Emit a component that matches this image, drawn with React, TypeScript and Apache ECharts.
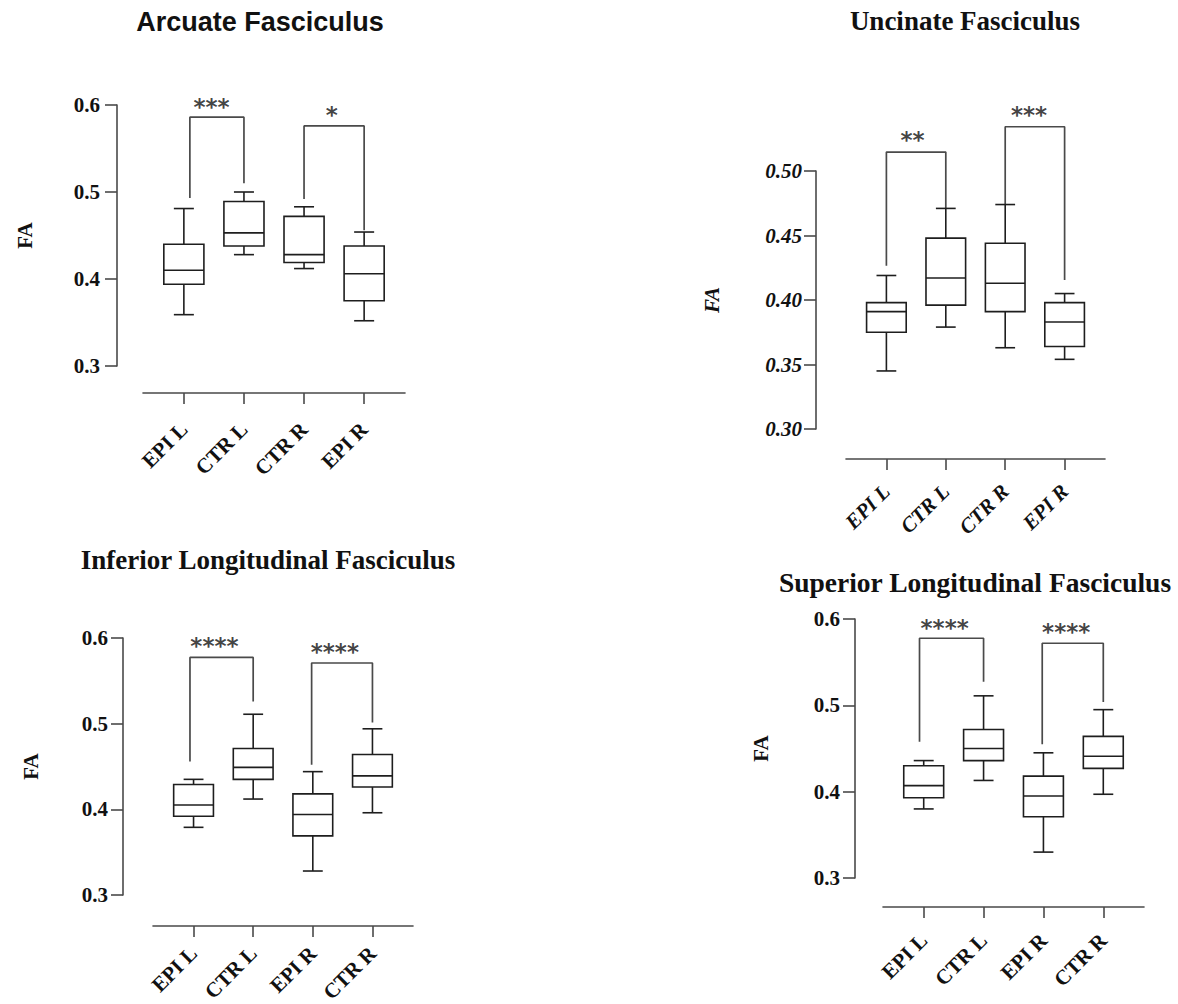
import React, { useEffect, useRef } from 'react';
import * as echarts from 'echarts';

// ---------- data ----------
const titles = ['Arcuate Fasciculus', 'Uncinate Fasciculus', 'Inferior Longitudinal Fasciculus', 'Superior Longitudinal Fasciculus'];

const catsArcUnc = ['EPI L', 'CTR L', 'CTR R', 'EPI R'];
const catsIlfSlf = ['EPI L', 'CTR L', 'EPI R', 'CTR R'];

// [min, Q1, median, Q3, max]
const arcuateBoxes = [
  [0.359, 0.394, 0.410, 0.440, 0.481],
  [0.428, 0.438, 0.453, 0.489, 0.500],
  [0.412, 0.419, 0.428, 0.472, 0.483],
  [0.352, 0.375, 0.406, 0.438, 0.454],
];
const uncinateBoxes = [
  [0.345, 0.375, 0.391, 0.398, 0.419],
  [0.379, 0.396, 0.417, 0.448, 0.471],
  [0.363, 0.391, 0.413, 0.444, 0.474],
  [0.354, 0.364, 0.383, 0.398, 0.405],
];
const ilfBoxes = [
  [0.379, 0.392, 0.405, 0.429, 0.435],
  [0.412, 0.435, 0.449, 0.471, 0.511],
  [0.328, 0.369, 0.394, 0.418, 0.444],
  [0.396, 0.426, 0.439, 0.464, 0.494],
];
const slfBoxes = [
  [0.380, 0.393, 0.407, 0.430, 0.436],
  [0.413, 0.436, 0.450, 0.472, 0.511],
  [0.330, 0.371, 0.395, 0.418, 0.445],
  [0.397, 0.427, 0.441, 0.464, 0.495],
];

// significance brackets: [x, y] polyline points
const arcuateBrackets = [
  [[0.1, 0.493], [0.1, 0.586], [1, 0.586], [1, 0.510]],
  [[2, 0.492], [2, 0.576], [3, 0.576], [3, 0.456]],
];
const uncinateBrackets = [
  [[0, 0.4266], [0, 0.5147], [1, 0.5147], [1, 0.471]],
  [[2, 0.4736], [2, 0.5343], [3, 0.5343], [3, 0.4155]],
];
const ilfBrackets = [
  [[-0.06, 0.4558], [-0.06, 0.5773], [1, 0.5773], [1, 0.5259]],
  [[1.98, 0.4519], [1.98, 0.5708], [3, 0.5708], [3, 0.5014]],
];
const slfBrackets = [
  [[-0.07, 0.4578], [-0.07, 0.5777], [1, 0.5777], [1, 0.5274]],
  [[1.98, 0.455], [1.98, 0.5719], [3, 0.5719], [3, 0.504]],
];

// stars: [label, x, y]
const arcuateStars: [string, number, number][] = [['***', 0.46, 0.604], ['*', 2.46, 0.594]];
const uncinateStars: [string, number, number][] = [['**', 0.44, 0.528], ['***', 2.4, 0.5473]];
const ilfStars: [string, number, number][] = [['****', 0.35, 0.597], ['****', 2.37, 0.589]];
const slfStars: [string, number, number][] = [['****', 0.35, 0.595], ['****', 2.38, 0.5905]];

const yTicksA = { min: 0.3, max: 0.6, interval: 0.1, digits: 1 };
const yTicksU = { min: 0.3, max: 0.5, interval: 0.05, digits: 2 };

// ---------- layout / style ----------
const SERIF = '"Liberation Serif", "Times New Roman", serif';
const SANS = '"Liberation Sans", Arial, sans-serif';
const STAR_FONT = '"DejaVu Sans", sans-serif';
const AXIS_COLOR = '#4a4a4a';
const BOX_COLOR = '#1e1e1e';
const TEXT_COLOR = '#111';

const panels = [
  { title: titles[0], titleX: 260, titleY: 22, titleFont: SANS, titleSize: 27, cats: catsArcUnc, boxes: arcuateBoxes, brackets: arcuateBrackets, stars: arcuateStars, y: yTicksA, italic: false,
    grid: { left: 143, top: 105, width: 262, height: 261 }, xOff: 27, yOff: 26, nameGap: 82, labelMargin: 17, xLabelMargin: 33 },
  { title: titles[1], titleX: 965, titleY: 21, titleFont: SERIF, titleSize: 27, cats: catsArcUnc, boxes: uncinateBoxes, brackets: uncinateBrackets, stars: uncinateStars, y: yTicksU, italic: true,
    grid: { left: 846, top: 171, width: 259, height: 258 }, xOff: 30, yOff: 30, nameGap: 94, labelMargin: 14, xLabelMargin: 29 },
  { title: titles[2], titleX: 268, titleY: 560, titleFont: SERIF, titleSize: 27, cats: catsIlfSlf, boxes: ilfBoxes, brackets: ilfBrackets, stars: ilfStars, y: yTicksA, italic: false,
    grid: { left: 153, top: 638, width: 260, height: 257 }, xOff: 31, yOff: 30, nameGap: 82, labelMargin: 15, xLabelMargin: 24 },
  { title: titles[3], titleX: 975, titleY: 582, titleFont: SERIF, titleSize: 27.5, cats: catsIlfSlf, boxes: slfBoxes, brackets: slfBrackets, stars: slfStars, y: yTicksA, italic: false,
    grid: { left: 883, top: 619, width: 261, height: 259 }, xOff: 29, yOff: 28, nameGap: 84, labelMargin: 15, xLabelMargin: 30 },
];

const BOX_FRAC = 0.667; // box width as a fraction of category spacing
const CAP_FRAC = 0.333;

function renderBox(params: any, api: any) {
  const x = api.value(0);
  const lo = api.coord([x, api.value(1)]);
  const q1 = api.coord([x, api.value(2)]);
  const md = api.coord([x, api.value(3)]);
  const q3 = api.coord([x, api.value(4)]);
  const hi = api.coord([x, api.value(5)]);
  const unit = api.size([1, 0])[0];
  const bw = (unit * BOX_FRAC) / 2;
  const cw = (unit * CAP_FRAC) / 2;
  const cx = lo[0];
  const style = { stroke: BOX_COLOR, lineWidth: 1.6, fill: 'none' };
  return {
    type: 'group',
    children: [
      { type: 'line', shape: { x1: cx, y1: hi[1], x2: cx, y2: q3[1] }, style },
      { type: 'line', shape: { x1: cx - cw, y1: hi[1], x2: cx + cw, y2: hi[1] }, style },
      { type: 'rect', shape: { x: cx - bw, y: q3[1], width: 2 * bw, height: q1[1] - q3[1] }, style: { ...style, fill: '#fff' } },
      { type: 'line', shape: { x1: cx - bw, y1: md[1], x2: cx + bw, y2: md[1] }, style },
      { type: 'line', shape: { x1: cx, y1: q1[1], x2: cx, y2: lo[1] }, style },
      { type: 'line', shape: { x1: cx - cw, y1: lo[1], x2: cx + cw, y2: lo[1] }, style },
    ],
  };
}

function buildOption() {
  const grid: any[] = [];
  const xAxis: any[] = [];
  const yAxis: any[] = [];
  const series: any[] = [];
  const graphic: any[] = [];

  panels.forEach((p, i) => {
    const fontStyle = p.italic ? 'italic' : 'normal';
    grid.push({ ...p.grid, containLabel: false, outerBoundsMode: 'none' });
    xAxis.push({
      type: 'value', gridIndex: i, min: -0.68, max: 3.68, offset: p.xOff,
      axisLine: { show: true, onZero: false, lineStyle: { color: AXIS_COLOR, width: 1.6 } },
      axisTick: { show: true, length: 11, customValues: [0, 1, 2, 3], lineStyle: { color: AXIS_COLOR, width: 1.6 } },
      axisLabel: {
        customValues: [0, 1, 2, 3], rotate: 45, margin: p.xLabelMargin,
        formatter: (v: number) => p.cats[Math.round(v)] ?? '',
        color: TEXT_COLOR, fontFamily: SERIF, fontWeight: 'bold', fontStyle, fontSize: 21,
      },
      splitLine: { show: false },
    });
    yAxis.push({
      type: 'value', gridIndex: i, min: p.y.min, max: p.y.max, interval: p.y.interval, offset: p.yOff,
      name: 'FA', nameLocation: 'middle', nameRotate: 90, nameGap: p.nameGap, nameMoveOverlap: false,
      nameTextStyle: { color: TEXT_COLOR, fontFamily: SERIF, fontWeight: 'bold', fontStyle, fontSize: 21 },
      axisLine: { show: true, onZero: false, lineStyle: { color: AXIS_COLOR, width: 1.6 } },
      axisTick: { show: true, length: 12, lineStyle: { color: AXIS_COLOR, width: 1.6 } },
      axisLabel: {
        margin: p.labelMargin, formatter: (v: number) => v.toFixed(p.y.digits),
        color: TEXT_COLOR, fontFamily: SERIF, fontWeight: 'bold', fontStyle, fontSize: 21,
      },
      splitLine: { show: false },
    });
    series.push({
      type: 'custom', xAxisIndex: i, yAxisIndex: i, clip: false,
      renderItem: renderBox,
      encode: { x: 0, y: [1, 2, 3, 4, 5] },
      data: p.boxes.map((b, k) => [k, ...b]),
      z: 3,
    });
    p.brackets.forEach((br) => {
      series.push({
        type: 'line', xAxisIndex: i, yAxisIndex: i, clip: false, symbol: 'none', silent: true,
        lineStyle: { color: AXIS_COLOR, width: 1.7 }, data: br, z: 2,
      });
    });
    series.push({
      type: 'scatter', xAxisIndex: i, yAxisIndex: i, clip: false, symbolSize: 0, silent: true,
      data: p.stars.map((s) => ({ name: s[0], value: [s[1], s[2]] })),
      label: {
        show: true, position: 'inside', formatter: '{b}', offset: [0, 5],
        color: TEXT_COLOR, fontFamily: STAR_FONT, fontWeight: 'bold', fontSize: 23,
      },
    });
    graphic.push({
      type: 'text', x: p.titleX, y: p.titleY,
      style: { text: p.title, align: 'center', verticalAlign: 'middle', fill: TEXT_COLOR, font: `bold ${p.titleSize}px ${p.titleFont}` },
    });
  });

  return { animation: false, backgroundColor: '#fff', grid, xAxis, yAxis, series, graphic };
}

export default function App() {
  const ref = useRef<HTMLDivElement>(null);
  useEffect(() => {
    if (!ref.current) return;
    const chart = echarts.init(ref.current, null, { renderer: 'svg' });
    chart.setOption(buildOption() as any);
    return () => chart.dispose();
  }, []);
  return <div ref={ref} style={{ position: 'absolute', left: 0, top: 0, width: 1178, height: 1004, background: '#fff' }} />;
}
